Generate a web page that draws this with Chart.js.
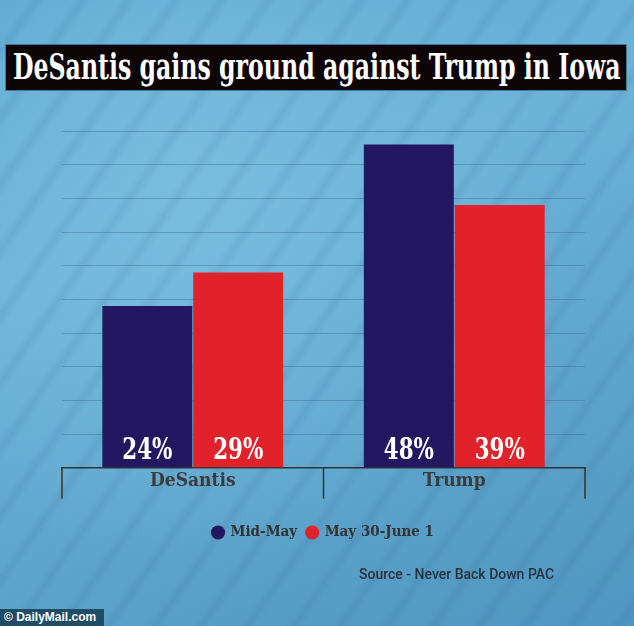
<!DOCTYPE html>
<html>
<head>
<meta charset="utf-8">
<script src="https://cdn.jsdelivr.net/npm/chart.js@4"></script>
<style>
  html, body { margin: 0; padding: 0; }
  body {
    width: 634px; height: 626px; position: relative; overflow: hidden;
    background:
      repeating-linear-gradient(125deg, rgba(40,80,130,0) 0px, rgba(40,80,130,0) 22px, rgba(40,80,130,0.10) 30px, rgba(40,80,130,0) 38px),
      radial-gradient(ellipse at 30% 30%, #78bde0 0%, rgba(120,189,224,0) 60%),
      linear-gradient(160deg, #5aa6cc 0%, #6cb3d8 35%, #5fa6cd 65%, #4f96c0 100%);
  }
  #title {
    position: absolute; left: 5px; top: 44px; width: 622px; height: 47px;
    background: #0c0405; border: 1px solid #3d7896; box-sizing: border-box;
    color: #fff; font-family: "DejaVu Serif Condensed", "DejaVu Serif", serif; font-weight: bold;
    font-size: 35px; line-height: 44px; white-space: nowrap; overflow: hidden;
  }
  #title span { display: inline-block; transform-origin: 0 50%; margin-left: 7px; }
  #chart { position: absolute; left: 0; top: 0; }
  #source {
    position: absolute; left: 359px; top: 566px;
    font-family: Roboto, sans-serif; font-weight: 500; font-size: 14px; color: #27323d;
  }
  #dm {
    position: absolute; left: 0; top: 609px; width: 104px; height: 17px;
    background: #1f4d66; color: #fff; font-family: "Liberation Sans", Arial, sans-serif;
    font-weight: bold; font-size: 12px; line-height: 17px; padding-left: 4px; box-sizing: border-box;
  }
</style>
</head>
<body>
<div id="title"><span id="titleText">DeSantis gains ground against Trump in Iowa</span></div>
<canvas id="chart" width="634" height="626"></canvas>
<div id="source">Source - Never Back Down PAC</div>
<div id="dm">© DailyMail.com</div>
<script>
const categories = ['DeSantis', 'Trump'];
const seriesNames = ['Mid-May', 'May 30-June 1'];
const midMay = [24, 48];
const lateMay = [29, 39];

const navy = '#241762';
const red = '#e1222a';
const condensed = '"DejaVu Serif Condensed", "DejaVu Serif", serif';

// squeeze the title so it fills the black box
const titleText = document.getElementById('titleText');
titleText.style.transform = 'scaleX(' + (608 / titleText.offsetWidth) + ')';

// white value labels sitting at the bottom of each bar
const valueLabels = {
  id: 'valueLabels',
  afterDatasetsDraw(chart) {
    const ctx = chart.ctx;
    ctx.save();
    ctx.fillStyle = '#fff';
    ctx.font = 'bold 29px ' + condensed;
    ctx.textAlign = 'center';
    ctx.textBaseline = 'alphabetic';
    chart.data.datasets.forEach((ds, i) => {
      chart.getDatasetMeta(i).data.forEach((bar, j) => {
        ctx.save();
        ctx.translate(bar.x, bar.base - 8);
        ctx.scale(0.82, 1);
        ctx.fillText(ds.data[j] + '%', 0, 0);
        ctx.restore();
      });
    });
    ctx.restore();
  }
};

// separator ticks hanging below the x axis at the category edges
const separators = {
  id: 'separators',
  afterDraw(chart) {
    const x = chart.scales.x;
    const ctx = chart.ctx;
    const top = chart.chartArea.bottom;
    const step = x.getPixelForTick(1) - x.getPixelForTick(0);
    ctx.save();
    ctx.strokeStyle = '#333';
    ctx.lineWidth = 1.5;
    ctx.beginPath();
    for (let i = 0; i <= categories.length; i++) {
      const px = x.getPixelForTick(0) - step / 2 + i * step;
      ctx.moveTo(px, top);
      ctx.lineTo(px, top + 31);
    }
    ctx.stroke();
    ctx.restore();
  }
};

new Chart(document.getElementById('chart'), {
  type: 'bar',
  data: {
    labels: categories,
    datasets: [
      { label: seriesNames[0], data: midMay, backgroundColor: navy, borderWidth: 0 },
      { label: seriesNames[1], data: lateMay, backgroundColor: red, borderWidth: 0 }
    ]
  },
  options: {
    responsive: false,
    animation: false,
    layout: { padding: { left: 62, right: 49, top: 131, bottom: 76 } },
    datasets: { bar: { categoryPercentage: 0.695, barPercentage: 0.99 } },
    scales: {
      x: {
        grid: { display: false },
        border: { color: '#333', width: 1.5 },
        ticks: { padding: -6, color: '#3b3b3b', font: { family: condensed, weight: 'bold', size: 19 } },
        afterFit(scale) { scale.height += 28.5; }
      },
      y: {
        min: 0, max: 50,
        ticks: { stepSize: 5, display: false },
        grid: { color: 'rgba(45,90,130,0.35)', lineWidth: 1, drawTicks: false },
        border: { display: false }
      }
    },
    plugins: {
      legend: {
        position: 'bottom',
        labels: {
          usePointStyle: true, pointStyle: 'circle', boxWidth: 10, boxHeight: 10,
          padding: 10, color: '#333', font: { family: condensed, weight: 'bold', size: 15 }
        }
      },
      tooltip: { enabled: false }
    }
  },
  plugins: [valueLabels, separators]
});
</script>
</body>
</html>
